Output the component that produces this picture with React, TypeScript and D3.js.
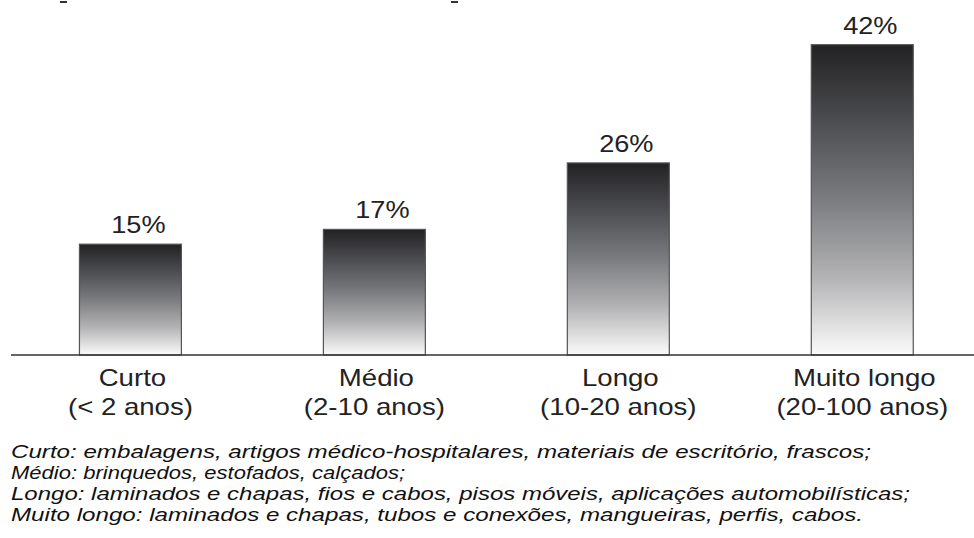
import React from "react";
import * as d3 from "d3";

const categories = ["Curto", "Médio", "Longo", "Muito longo"];
const ranges = ["(< 2 anos)", "(2-10 anos)", "(10-20 anos)", "(20-100 anos)"];
const values = [15, 17, 26, 42];
const valueLabels = ["15%", "17%", "26%", "42%"];
const notes = [
  "Curto: embalagens, artigos médico-hospitalares, materiais de escritório, frascos;",
  "Médio: brinquedos, estofados, calçados;",
  "Longo: laminados e chapas, fios e cabos, pisos móveis, aplicações automobilísticas;",
  "Muito longo: laminados e chapas, tubos e conexões, mangueiras, perfis, cabos.",
];
const noteWidths = [860, 394, 899, 852];

const W = 974;
const H = 538;
const baseY = 355;
const FONT = "'Liberation Sans', Arial, Helvetica, sans-serif";

export default function App() {
  const x = d3
    .scaleBand<string>()
    .domain(categories)
    .range([8.7, 984])
    .paddingInner(0.582)
    .paddingOuter(0.29);
  const y = d3.scaleLinear().domain([0, 42]).range([baseY, 44.7]);

  return (
    <svg
      width={W}
      height={H}
      style={{ position: "absolute", left: 0, top: 0, background: "#fff" }}
      fontFamily={FONT}
    >
      <defs>
        <linearGradient id="barGrad" x1="0" y1="0" x2="0" y2="1">
          <stop offset="0" stopColor="#222124" />
          <stop offset="0.25" stopColor="#4d4e51" />
          <stop offset="0.5" stopColor="#7b7c7f" />
          <stop offset="0.75" stopColor="#b3b3b5" />
          <stop offset="1" stopColor="#fbfbfb" />
        </linearGradient>
      </defs>
      <rect x={60} y={1} width={7} height={2} fill="#333" />
      <rect x={451} y={1} width={7} height={2} fill="#333" />
      {categories.map((c, i) => {
        const bx = x(c)!;
        const bw = x.bandwidth();
        const top = y(values[i]);
        const cx = bx + bw / 2;
        return (
          <g key={c}>
            <rect
              x={bx}
              y={top}
              width={bw}
              height={baseY - top}
              fill="url(#barGrad)"
              stroke="#555"
              strokeWidth={1.2}
            />
            <text
              transform={`translate(${cx + 8},${top - 11}) scale(1.18,1)`}
              textAnchor="middle"
              fontSize={23}
              fill="#222"
            >
              {valueLabels[i]}
            </text>
            <text
              transform={`translate(${cx + 2},${386}) scale(1.2,1)`}
              textAnchor="middle"
              fontSize={23}
              fill="#222"
            >
              {c}
            </text>
            <text
              transform={`translate(${cx},${415}) scale(1.2,1)`}
              textAnchor="middle"
              fontSize={23}
              fill="#222"
            >
              {ranges[i]}
            </text>
          </g>
        );
      })}
      <line x1={11} x2={974} y1={baseY} y2={baseY} stroke="#333" strokeWidth={1.5} />
      {notes.map((t, i) => (
        <text
          key={i}
          x={11}
          y={458 + i * 21}
          fontSize={17.5}
          fontStyle="italic"
          fill="#111"
          textLength={noteWidths[i]}
          lengthAdjust="spacingAndGlyphs"
        >
          {t}
        </text>
      ))}
    </svg>
  );
}
